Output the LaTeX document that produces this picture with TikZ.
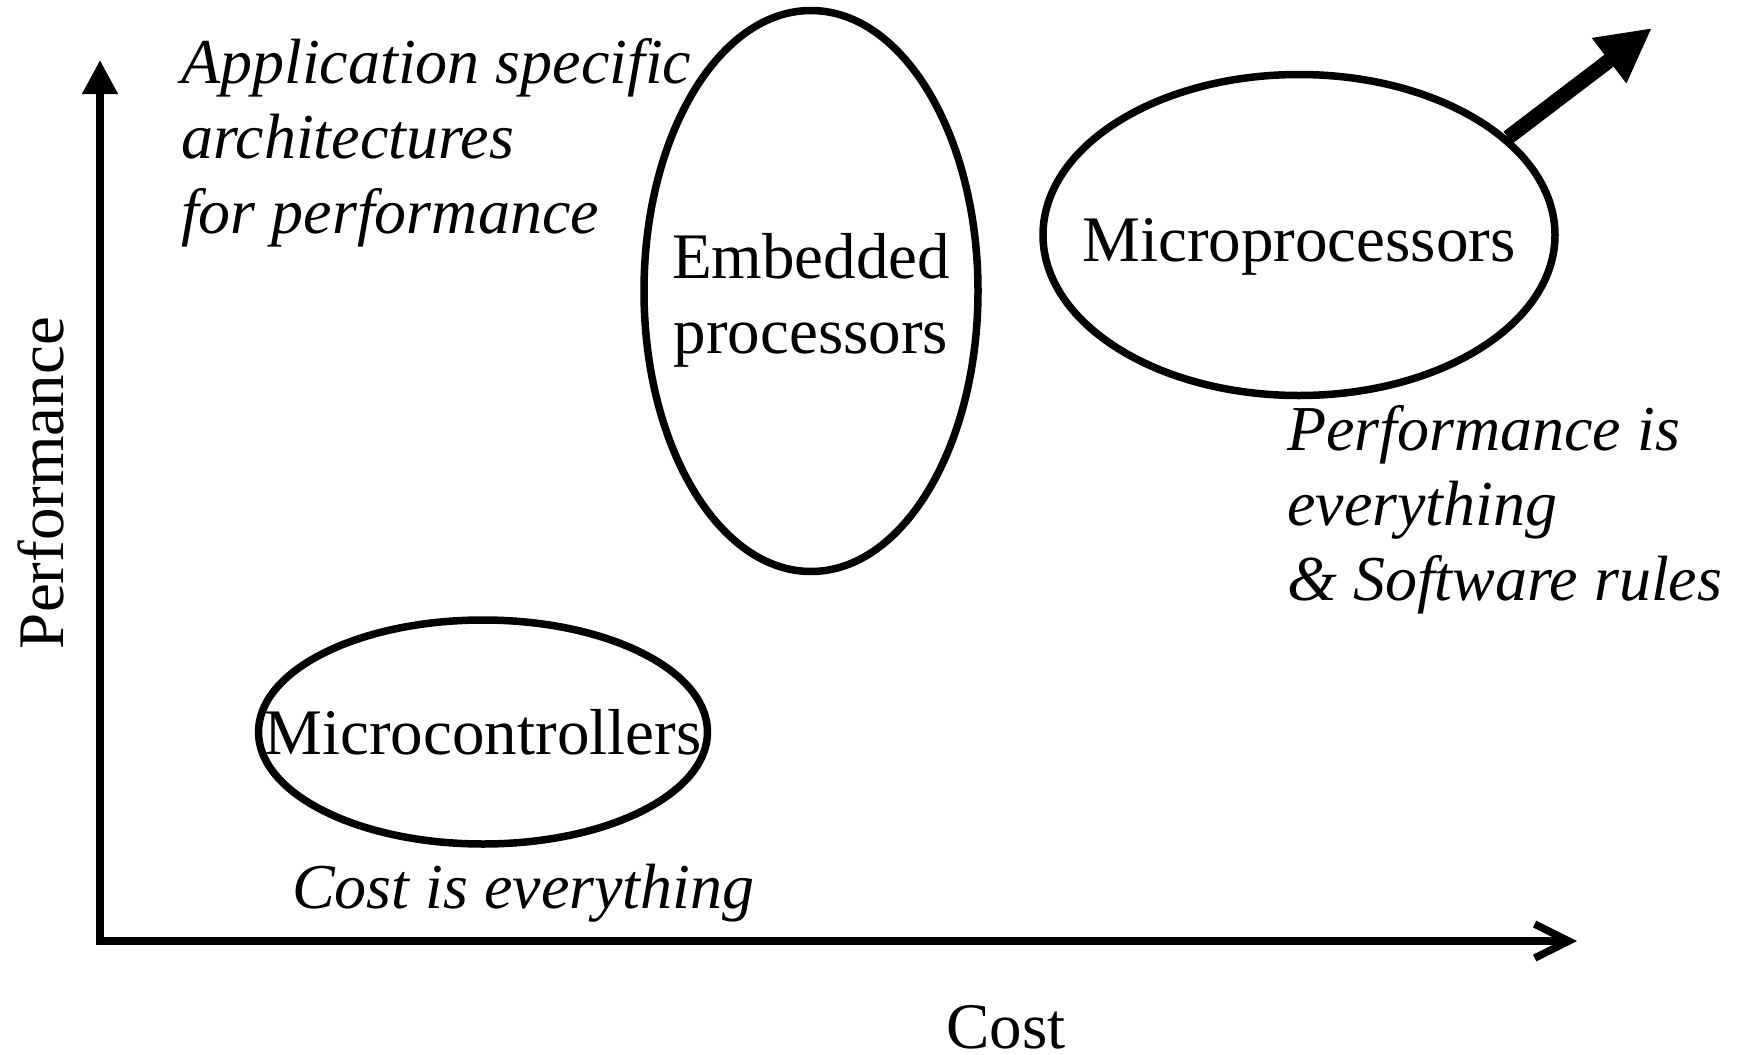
\documentclass[tikz,border=0pt]{standalone}
\usepackage{fontspec}
\setmainfont{Liberation Serif}
\usetikzlibrary{shapes.geometric,arrows.meta,positioning}

\tikzset{
  blob/.style={ellipse, draw, line width=7.5pt, inner sep=0pt},
  axisline/.style={line width=7.5pt},
  note/.style={font=\fontsize{64}{75}\selectfont\itshape, align=left, inner sep=0pt},
  word/.style={font=\fontsize{65}{75}\selectfont, inner sep=0pt, align=center}
}

\begin{document}
\begin{tikzpicture}[x=1pt,y=-1pt]
\useasboundingbox (0,0) rectangle (1741,1055);

% axes
\coordinate (origin) at (100,941);
\coordinate (ytop) at (100,60);
\coordinate (xend) at (1577,941);
\draw [axisline,{Triangle[length=34pt,width=34pt]}-{Straight Barb[length=34pt,width=34pt]}]
  (ytop) -- (origin) -- (xend);
\node [word, anchor=base] (costlbl) at (1006,1048) {Cost};
\node [word, rotate=90, anchor=base] (perflbl) at (63,483) {Performance};

% the three classes
\node [blob, minimum width=334pt, minimum height=561pt] (embed) at (811,291) {};
\node [word] (embedtxt) at ([yshift=-9pt]embed.center) {Embedded\\processors};
\node [blob, minimum width=512pt, minimum height=321pt] (microp) at (1299,235) {};
\node [word] (microptxt) at ([yshift=-12pt]microp.center) {Microprocessors};
\node [blob, minimum width=449pt, minimum height=224pt] (microc) at (483,732) {};
\node [word] (microctxt) at (microc.center) {Microcontrollers};

% trend
\coordinate (trend) at (1652,28);
\draw [line width=15pt,-{Triangle[length=54pt,width=53pt]}] (microp.25) -- (trend);

% remarks
\node [note, anchor=north west] (asic) at (181,38) {Application specific\\architectures\\for performance};
\node [note, anchor=north west] (perfnote) at (1287,405) {Performance is\\everything\\\& Software rules};
\node [note, anchor=base west] (costnote) at (292,908) {Cost is everything};
\end{tikzpicture}
\end{document}
